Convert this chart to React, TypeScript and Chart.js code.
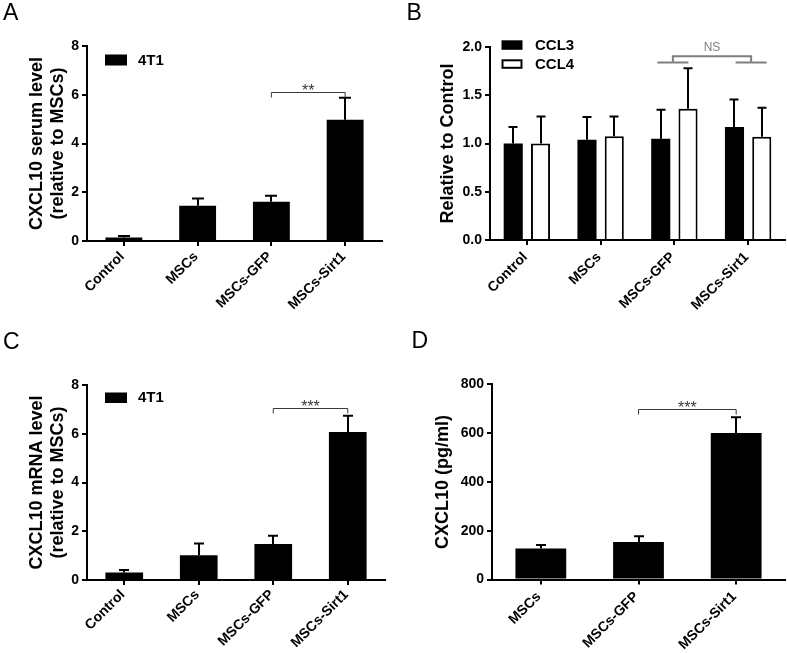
import React, { useEffect, useRef } from 'react';
import { Chart, registerables } from 'chart.js';

Chart.register(...registerables);

const FONT = "'Liberation Sans', Arial, Helvetica, sans-serif";

// ---------------- data ----------------
const groups4 = ['Control', 'MSCs', 'MSCs-GFP', 'MSCs-Sirt1'];
const groups3 = ['MSCs', 'MSCs-GFP', 'MSCs-Sirt1'];

// A: CXCL10 serum level (relative to MSCs)
const serumSeries = '4T1';
const serumMean = [0.14, 1.45, 1.61, 4.97];
const serumSem = [0.07, 0.29, 0.25, 0.91];
const serumTicks = [0, 2, 4, 6, 8];

// B: relative to control
const ccl3Series = 'CCL3';
const ccl3Mean = [1.0, 1.04, 1.05, 1.17];
const ccl3Sem = [0.17, 0.235, 0.3, 0.285];
const ccl4Series = 'CCL4';
const ccl4Mean = [1.0, 1.075, 1.36, 1.07];
const ccl4Sem = [0.28, 0.205, 0.42, 0.3];
const relTicks = [0, 0.5, 1.0, 1.5, 2.0];

// C: CXCL10 mRNA level (relative to MSCs)
const mrnaSeries = '4T1';
const mrnaMean = [0.31, 1.02, 1.48, 6.07];
const mrnaSem = [0.1, 0.48, 0.34, 0.67];
const mrnaTicks = [0, 2, 4, 6, 8];

// D: CXCL10 (pg/ml)
const proteinSeries = 'CXCL10';
const proteinMean = [127, 154, 600];
const proteinSem = [14, 23, 65];
const proteinTicks = [0, 200, 400, 600, 800];

// significance marks
const sigA = { from: 2, to: 3, at: 6.1, text: '**' };
const sigB = { from: 2, to: 3, lower: 1.84, upper: 1.905, textAt: 1.99, text: 'NS' };
const sigC = { from: 2, to: 3, at: 7.06, text: '***' };
const sigD = { from: 1, to: 2, at: 698, text: '***' };

// ---------------- plugins ----------------
const errorBarPlugin = {
  id: 'errorBars',
  afterDatasetsDraw(chart: any, _a: any, opts: any) {
    const { ctx } = chart;
    const y = chart.scales.y;
    chart.data.datasets.forEach((ds: any, di: number) => {
      if (!ds.sem) return;
      const meta = chart.getDatasetMeta(di);
      meta.data.forEach((bar: any, i: number) => {
        const v = ds.data[i];
        const y0 = y.getPixelForValue(v);
        const y1 = y.getPixelForValue(v + ds.sem[i]);
        const x = Math.round(bar.x);
        ctx.save();
        ctx.strokeStyle = '#000';
        ctx.lineWidth = opts.width || 2;
        ctx.beginPath();
        ctx.moveTo(x, y0);
        ctx.lineTo(x, y1);
        ctx.moveTo(x - opts.cap / 2, y1);
        ctx.lineTo(x + opts.cap / 2, y1);
        ctx.stroke();
        ctx.restore();
      });
    });
  },
};

const bracketPlugin = {
  id: 'brackets',
  afterDatasetsDraw(chart: any, _a: any, opts: any) {
    const items = opts.items || [];
    const { ctx } = chart;
    const xs = chart.scales.x;
    const ys = chart.scales.y;
    items.forEach((b: any) => {
      ctx.save();
      ctx.strokeStyle = b.color;
      ctx.fillStyle = b.color;
      ctx.lineWidth = b.lineWidth;
      const x1 = xs.getPixelForValue(b.from) + (b.dx1 || 0);
      const x2 = xs.getPixelForValue(b.to) + (b.dx2 || 0);
      ctx.font = `${b.fontSize}px ${FONT}`;
      ctx.textAlign = 'center';
      if (b.kind === 'grouped') {
        const yl = ys.getPixelForValue(b.lower);
        const yu = ys.getPixelForValue(b.upper);
        ctx.beginPath();
        [x1, x2].forEach((cx) => {
          ctx.moveTo(cx - b.half, yl);
          ctx.lineTo(cx + b.half, yl);
        });
        ctx.moveTo(x1, yl);
        ctx.lineTo(x1, yu);
        ctx.lineTo(x2, yu);
        ctx.lineTo(x2, yl);
        ctx.stroke();
        ctx.textBaseline = 'middle';
        ctx.fillText(b.text, (x1 + x2) / 2, ys.getPixelForValue(b.textAt));
      } else {
        const yb = Math.round(ys.getPixelForValue(b.at)) + 0.5;
        ctx.beginPath();
        ctx.moveTo(x1, yb + b.drop);
        ctx.lineTo(x1, yb);
        ctx.lineTo(x2, yb);
        ctx.lineTo(x2, yb + b.drop);
        ctx.stroke();
        ctx.textBaseline = 'alphabetic';
        ctx.fillText(b.text, (x1 + x2) / 2, yb + b.textDy);
      }
      ctx.restore();
    });
  },
};

const boxLegendPlugin = {
  id: 'boxLegend',
  afterDraw(chart: any, _a: any, opts: any) {
    if (!opts || !opts.show) return;
    const { ctx, chartArea } = chart;
    chart.data.datasets.forEach((ds: any, i: number) => {
      const top = chartArea.top + opts.dy + i * opts.rowGap;
      const left = chartArea.left + opts.dx;
      ctx.save();
      ctx.fillStyle = ds.backgroundColor;
      ctx.fillRect(left, top, opts.boxW, opts.boxH);
      if (ds.borderWidth) {
        ctx.lineWidth = ds.borderWidth;
        ctx.strokeStyle = ds.borderColor;
        ctx.strokeRect(left + 1, top + 1, opts.boxW - 2, opts.boxH - 2);
      }
      ctx.fillStyle = '#000';
      ctx.font = `bold ${opts.fontSize}px ${FONT}`;
      ctx.textBaseline = 'middle';
      ctx.textAlign = 'left';
      ctx.fillText(ds.label, left + opts.textDx, top + opts.boxH / 2 + 0.5);
      ctx.restore();
    });
  },
};

// category labels drawn at 45 degrees, ending at each tick
const xLabelPlugin = {
  id: 'xLabels',
  afterDraw(chart: any, _a: any, opts: any) {
    const { ctx } = chart;
    const xs = chart.scales.x;
    const base = chart.chartArea.bottom;
    ctx.save();
    ctx.font = `bold ${opts.size}px ${FONT}`;
    ctx.fillStyle = '#000';
    ctx.textAlign = 'right';
    ctx.textBaseline = 'middle';
    (chart.data.labels as string[]).forEach((lab, i) => {
      const x = xs.getPixelForValue(i) + opts.dx;
      const y = base + opts.dy;
      ctx.save();
      ctx.translate(x, y);
      ctx.rotate(-Math.PI / 4);
      ctx.fillText(lab, 0, 0);
      ctx.restore();
    });
    ctx.restore();
  },
};

const letterPlugin = {
  id: 'panelLetter',
  afterDraw(chart: any, _a: any, opts: any) {
    const { ctx } = chart;
    ctx.save();
    ctx.fillStyle = '#000';
    ctx.font = `${opts.size}px ${FONT}`;
    ctx.textAlign = 'left';
    ctx.textBaseline = 'alphabetic';
    ctx.fillText(opts.text, opts.x, opts.y);
    ctx.restore();
  },
};

// ---------------- config builder ----------------
type Spec = {
  labels: string[];
  datasets: any[];
  ticks: number[];
  decimals: number;
  yTitle: string | string[];
  titleOffset: number;
  padTop: number;
  padRight: number;
  yWidth: number;
  xHeight: number;
  cap: number;
  letter: any;
  legend: any;
  xLabels: any;
  brackets: any[];
};

function buildConfig(s: Spec): any {
  const tickFont = { family: FONT, size: 14, weight: 'bold' as const };
  const titleSize = 18;
  const titleLH = 21;
  return {
    type: 'bar',
    data: { labels: s.labels, datasets: s.datasets },
    options: {
      responsive: false,
      maintainAspectRatio: false,
      animation: false,
      devicePixelRatio: 1,
      layout: { padding: { left: 0, top: s.padTop, right: s.padRight, bottom: 0 } },
      plugins: {
        legend: { display: false },
        tooltip: { enabled: false },
        errorBars: { cap: s.cap, width: 2 },
        brackets: { items: s.brackets },
        boxLegend: s.legend,
        xLabels: s.xLabels,
        panelLetter: s.letter,
      },
      scales: {
        x: {
          type: 'category',
          offset: true,
          grid: {
            offset: false,
            drawOnChartArea: false,
            drawTicks: true,
            tickLength: 5,
            color: '#000',
            lineWidth: 2,
          },
          border: { display: true, color: '#000', width: 2 },
          ticks: { display: false, autoSkip: false },
          afterFit: (sc: any) => {
            sc.height = s.xHeight;
          },
        },
        y: {
          min: s.ticks[0],
          max: s.ticks[s.ticks.length - 1],
          afterBuildTicks: (sc: any) => {
            sc.ticks = s.ticks.map((v) => ({ value: v }));
          },
          grid: {
            drawOnChartArea: false,
            drawTicks: true,
            tickLength: 5,
            color: '#000',
            lineWidth: 2,
          },
          border: { display: true, color: '#000', width: 2 },
          ticks: {
            color: '#000',
            font: tickFont,
            padding: 3,
            callback: (v: any) => Number(v).toFixed(s.decimals),
          },
          title: {
            display: true,
            text: s.yTitle,
            color: '#000',
            font: { family: FONT, size: titleSize, weight: 'bold', lineHeight: titleLH / titleSize },
            padding: { top: s.titleOffset - titleLH / 2, bottom: 0 },
          },
          afterFit: (sc: any) => {
            sc.width = s.yWidth;
          },
        },
      },
    },
    plugins: [errorBarPlugin, bracketPlugin, boxLegendPlugin, xLabelPlugin, letterPlugin],
  };
}

const blackBar = {
  backgroundColor: '#000',
  borderColor: '#000',
  borderWidth: 0,
};

const bracketStyle = { color: '#3a3a3a', lineWidth: 1, fontSize: 16, drop: 5, textDy: 3 };

const panelA: Spec = {
  labels: groups4,
  datasets: [
    { label: serumSeries, data: serumMean, sem: serumSem, ...blackBar, categoryPercentage: 1, barPercentage: 0.5 },
  ],
  ticks: serumTicks,
  decimals: 0,
  yTitle: ['CXCL10 serum level', '(relative to MSCs)'],
  titleOffset: 37,
  padTop: 46,
  padRight: 11,
  yWidth: 87,
  xHeight: 89,
  cap: 12,
  letter: { text: 'A', x: 3, y: 20, size: 23 },
  legend: { show: true, dx: 18, dy: 8.5, rowGap: 19, boxW: 22, boxH: 11, textDx: 33, fontSize: 15 },
  xLabels: { size: 14, dx: -1.5, dy: 13.5 },
  brackets: [{ ...sigA, ...bracketStyle }],
};

const panelB: Spec = {
  labels: groups4,
  datasets: [
    { label: ccl3Series, data: ccl3Mean, sem: ccl3Sem, ...blackBar, categoryPercentage: 0.74, barPercentage: 0.7 },
    {
      label: ccl4Series,
      data: ccl4Mean,
      sem: ccl4Sem,
      backgroundColor: '#fff',
      borderColor: '#000',
      borderWidth: 2,
      categoryPercentage: 0.74,
      barPercentage: 0.7,
    },
  ],
  ticks: relTicks,
  decimals: 1,
  yTitle: 'Relative to Control',
  titleOffset: 55.3,
  padTop: 47,
  padRight: 2,
  yWidth: 97,
  xHeight: 90,
  cap: 9,
  letter: { text: 'B', x: 13.5, y: 20, size: 23 },
  legend: { show: true, dx: 11.5, dy: -6.7, rowGap: 19, boxW: 21, boxH: 9.5, textDx: 33.5, fontSize: 15 },
  xLabels: { size: 14, dx: -1.5, dy: 15 },
  brackets: [
    { ...sigB, kind: 'grouped', color: '#7f7f7f', lineWidth: 2, fontSize: 12, half: 15.5, dx1: -1.5, dx2: 3 },
  ],
};

const panelC: Spec = {
  labels: groups4,
  datasets: [
    { label: mrnaSeries, data: mrnaMean, sem: mrnaSem, ...blackBar, categoryPercentage: 1, barPercentage: 0.506 },
  ],
  ticks: mrnaTicks,
  decimals: 0,
  yTitle: ['CXCL10 mRNA level', '(relative to MSCs)'],
  titleOffset: 37,
  padTop: 55,
  padRight: 8,
  yWidth: 87,
  xHeight: 73,
  cap: 10,
  letter: { text: 'C', x: 3, y: 18.5, size: 23 },
  legend: { show: true, dx: 18, dy: 7.5, rowGap: 19, boxW: 22, boxH: 10.5, textDx: 33, fontSize: 15 },
  xLabels: { size: 14, dx: -1.5, dy: 12.5 },
  brackets: [{ ...sigC, ...bracketStyle }],
};

const panelD: Spec = {
  labels: groups3,
  datasets: [
    { label: proteinSeries, data: proteinMean, sem: proteinSem, ...blackBar, categoryPercentage: 1, barPercentage: 0.52 },
  ],
  ticks: proteinTicks,
  decimals: 0,
  yTitle: 'CXCL10 (pg/ml)',
  titleOffset: 50.3,
  padTop: 54.3,
  padRight: 2,
  yWidth: 99,
  xHeight: 73.5,
  cap: 10,
  letter: { text: 'D', x: 18.5, y: 18, size: 23 },
  legend: { show: false },
  xLabels: { size: 14, dx: -2, dy: 15 },
  brackets: [{ ...sigD, ...bracketStyle }],
};

function Panel({ spec, left, top, width, height }: { spec: Spec; left: number; top: number; width: number; height: number }) {
  const ref = useRef<HTMLCanvasElement>(null);
  useEffect(() => {
    const chart = new Chart(ref.current as HTMLCanvasElement, buildConfig(spec));
    return () => chart.destroy();
  }, [spec]);
  return (
    <canvas
      ref={ref}
      width={width}
      height={height}
      style={{ position: 'absolute', left, top, width, height, display: 'block' }}
    />
  );
}

export default function App() {
  return (
    <div style={{ position: 'absolute', left: 0, top: 0, width: 787, height: 653, background: '#fff', overflow: 'hidden' }}>
      <Panel spec={panelA} left={0} top={0} width={393} height={330} />
      <Panel spec={panelB} left={393} top={0} width={394} height={330} />
      <Panel spec={panelC} left={0} top={330} width={393} height={323} />
      <Panel spec={panelD} left={393} top={330} width={394} height={323} />
    </div>
  );
}
